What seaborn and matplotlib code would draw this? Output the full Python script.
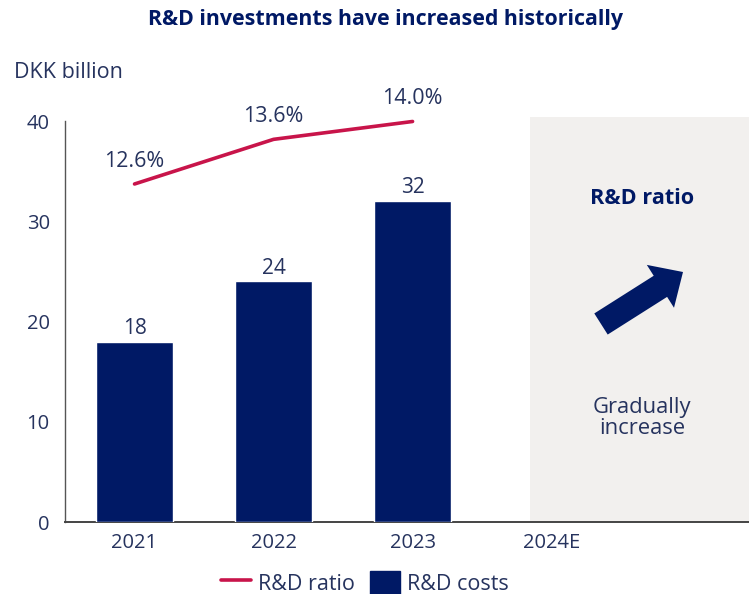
import numpy as np
import pandas as pd
import seaborn as sns
import matplotlib
matplotlib.use("Agg")
import matplotlib.pyplot as plt
from matplotlib.lines import Line2D
from matplotlib.patches import Patch

# --- data -------------------------------------------------------------
years = ["2021", "2022", "2023", "2024E"]
cost_years = ["2021", "2022", "2023"]
rd_costs = [18, 24, 32]              # DKK billion
rd_ratio = [12.6, 13.6, 14.0]        # % of sales
ratio_labels = ["12.6%", "13.6%", "14.0%"]

NAVY = "#001965"
RED = "#c8144a"
TEXT = "#26335e"
BOX = "#f2f0ee"

sns.set_theme(style="white")
plt.rcParams["font.family"] = ["Open Sans", "DejaVu Sans"]

fig = plt.figure(figsize=(7.49, 5.94), dpi=100)
ax = fig.add_axes([0.0868, 0.1212, 0.9132, 0.6818])

df = pd.DataFrame({"year": cost_years, "cost": rd_costs})
sns.barplot(data=df, x="year", y="cost", order=years, color=NAVY,
            saturation=1, width=0.56, ax=ax, zorder=3)

for cont in ax.containers:
    ax.bar_label(cont, labels=[str(v) for v in rd_costs], padding=2,
                 fontsize=15, color=TEXT)

ax.set_xlim(-0.5, 4.42)
ax.set_ylim(0, 40.4)
ax.set_yticks([0, 10, 20, 30, 40])
ax.set_xlabel("")
ax.set_ylabel("")
ax.tick_params(axis="both", length=0, labelsize=14.5, labelcolor=TEXT)
ax.tick_params(axis="y", pad=11)
ax.tick_params(axis="x", pad=8)

for side in ["top", "right"]:
    ax.spines[side].set_visible(False)
ax.spines["left"].set_bounds(0, 40)
ax.spines["left"].set_color("#555555")
ax.spines["left"].set_linewidth(1.0)
ax.spines["bottom"].set_color("#444444")
ax.spines["bottom"].set_linewidth(1.4)

# shaded outlook region for the estimate year
ax.axvspan(2.845, 4.42, color=BOX, zorder=0, lw=0)

# R&D ratio on a hidden secondary axis
ax2 = ax.twinx()
ax2.set_ylim(5.03, 14.10)
sns.lineplot(x=np.arange(len(rd_ratio)), y=rd_ratio, color=RED, lw=2.6,
             ax=ax2, zorder=4)
for i, (v, lab) in enumerate(zip(rd_ratio, ratio_labels)):
    ax2.annotate(lab, (i, v), xytext=(0, 16.5), textcoords="offset points",
                 ha="center", va="center", fontsize=15.5, color=TEXT)
ax2.set_yticks([])
ax2.set_ylabel("")
for s in ax2.spines.values():
    s.set_visible(False)

# title and unit
fig.text(0.515, 1 - 20 / 594, "R&D investments have increased historically",
         ha="center", va="center", fontsize=15.4, fontweight="bold", color=NAVY)
fig.text(14 / 749, 1 - 72 / 594, "DKK billion", ha="left", va="center",
         fontsize=15.5, color=TEXT)

# outlook panel text and arrow
fig.text(642 / 749, 1 - 199 / 594, "R&D ratio", ha="center", va="center",
         fontsize=15.6, fontweight="bold", color=NAVY)
fig.text(642 / 749, 1 - 418 / 594, "Gradually\nincrease", ha="center",
         va="center", fontsize=15.8, color=TEXT, linespacing=1.0)
ax.annotate("", xy=(683, 594 - 272), xycoords="figure pixels",
            xytext=(601, 594 - 324), textcoords="figure pixels",
            arrowprops=dict(arrowstyle="simple,head_length=1.07,head_width=2.03,tail_width=1.0",
                            mutation_scale=18, color=NAVY, shrinkA=0, shrinkB=0, lw=0))

# legend
handles = [Line2D([0], [0], color=RED, lw=2.6),
           Patch(facecolor=NAVY, edgecolor=NAVY)]
fig.legend(handles, ["R&D ratio", "R&D costs"], loc="center",
           bbox_to_anchor=(365 / 749, 1 - 583 / 594), ncol=2, frameon=False,
           fontsize=15.5, handlelength=1.4, handleheight=1.4, handletextpad=0.33,
           columnspacing=0.7, labelcolor=TEXT, borderpad=0.2)

fig.savefig("out.png", dpi=100)
